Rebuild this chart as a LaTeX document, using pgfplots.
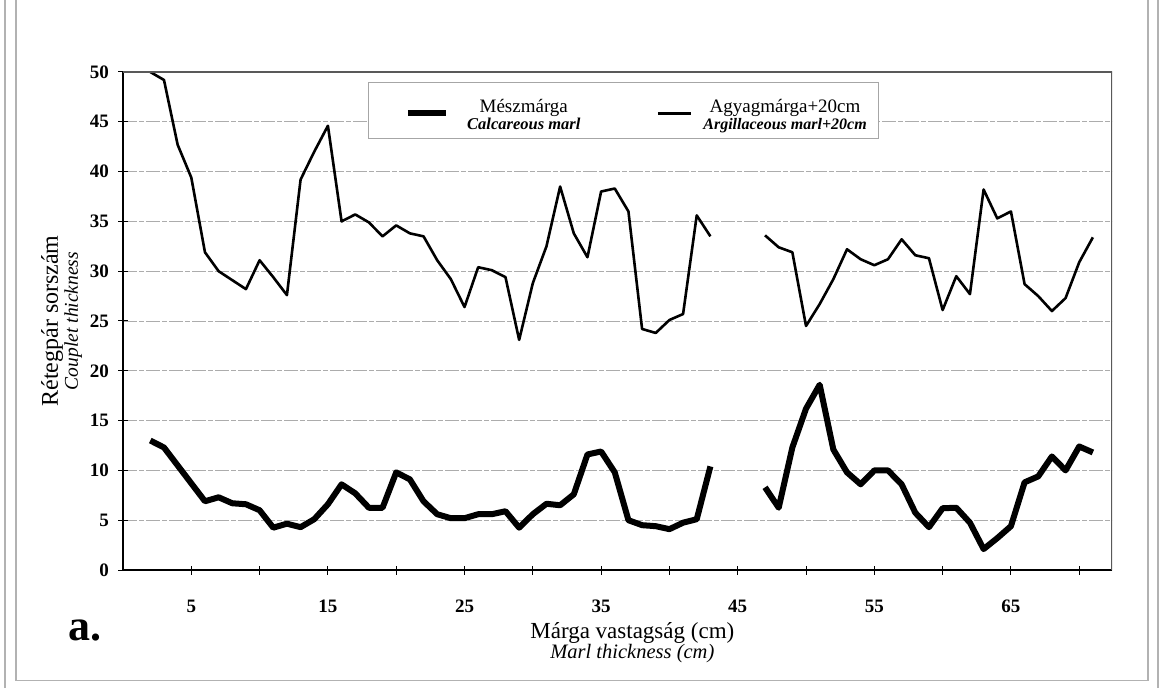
\documentclass[border=0pt]{standalone}
\usepackage{fontspec}
\setmainfont{Liberation Serif}
\usepackage{pgfplots}
\pgfplotsset{compat=1.18}
\begin{document}
\begin{tikzpicture}[x=1pt,y=1pt]
\path[use as bounding box] (0,0) rectangle (1164,688);
\draw[gray!60, line width=1.2pt] (5,0) -- (5,688);
\draw[gray!60, line width=1.2pt] (16,688) -- (16,7.5) -- (1148,7.5) -- (1148,688);
\draw[gray!60, line width=1.2pt] (1158,0) -- (1158,688);
\begin{axis}[
  at={(123pt,118pt)}, anchor=south west,
  scale only axis, width=989pt, height=498pt,
  xmin=0, xmax=72.4, ymin=0, ymax=50,
  axis x line*=bottom, axis y line*=left,
  xtick={5,10,...,70}, xticklabels={5,,15,,25,,35,,45,,55,,65,},
  ytick={0,5,...,50},
  tick align=center, major tick length=9pt,
  tick style={black, line width=1pt},
  ymajorgrids,
  grid style={gray!65, line width=0.9pt, dash pattern=on 14pt off 2pt on 5pt off 2pt},
  axis line style={black, line width=1.3pt},
  /pgf/number format/assume math mode=true,
  ticklabel style={font=\fontsize{19}{19}\selectfont\bfseries},
  xticklabel style={yshift=-22pt},
  yticklabel style={xshift=-6pt},
  unbounded coords=jump,
  xlabel={Márga vastagság (cm)\\[-3pt]{\fontsize{20.5}{20.5}\selectfont\itshape Marl thickness (cm)}},
  xlabel style={at={(axis description cs:0.515,-0.146)}, anchor=center, align=center, font=\fontsize{23}{23}\selectfont},
  ylabel={Rétegpár sorszám\\[-4pt]{\fontsize{19.5}{19.5}\selectfont\itshape Couplet thickness}},
  ylabel style={at={(axis description cs:-0.062,0.5)}, anchor=center, rotate=0, align=center, font=\fontsize{24}{24}\selectfont},
  legend columns=2,
  legend style={at={(axis description cs:0.248,0.980)}, anchor=north west,
    draw=gray!70, line width=1pt, fill=white, inner xsep=0pt, inner ysep=16pt,
    column sep=0pt, font=\fontsize{19}{20}\selectfont,
    nodes={inner sep=0pt, anchor=base}},
]
\addplot[black, line width=6pt, line join=round,
  legend image code/.code={\path[draw=none, fill=none] (-39pt,8pt) rectangle (38pt,8.1pt); \draw[black, line width=6pt] (0pt,8pt) -- (38pt,8pt);}]
coordinates {(2,13.0)(3,12.3)(4,10.5)(5,8.7)(6,6.9)(7,7.3)(8,6.7)(9,6.6)(10,6.0)(11,4.25)(12,4.65)(13,4.3)(14,5.1)(15,6.6)(16,8.6)(17,7.7)(18,6.25)(19,6.25)(20,9.8)(21,9.1)(22,6.9)(23,5.6)(24,5.2)(25,5.2)(26,5.6)(27,5.6)(28,5.9)(29,4.25)(30,5.6)(31,6.65)(32,6.5)(33,7.6)(34,11.6)(35,11.9)(36,9.8)(37,5.0)(38,4.5)(39,4.4)(40,4.1)(41,4.75)(42,5.1)(43,10.4)(45,nan)(47,8.3)(48,6.25)(49,12.3)(50,16.2)(51,18.6)(52,12.1)(53,9.8)(54,8.6)(55,10.0)(56,10.0)(57,8.6)(58,5.75)(59,4.3)(60,6.2)(61,6.25)(62,4.75)(63,2.1)(64,3.2)(65,4.4)(66,8.8)(67,9.4)(68,11.4)(69,10.0)(70,12.4)(71,11.8)};
\addlegendentry{\makebox[150pt]{\begin{tabular}{@{}c@{}}Mészmárga\\[-3pt]\fontsize{16.5}{16.5}\selectfont\bfseries\itshape Calcareous marl\end{tabular}}}
\addplot[black, line width=2.6pt, line join=round,
  legend image code/.code={\path[draw=none, fill=none] (-59pt,8pt) rectangle (33pt,8.1pt); \draw[black, line width=2.6pt] (0pt,8pt) -- (33pt,8pt);}]
coordinates {(2,50.0)(3,49.2)(4,42.7)(5,39.4)(6,31.9)(7,30.0)(8,29.1)(9,28.2)(10,31.1)(11,29.4)(12,27.6)(13,39.2)(14,42.0)(15,44.6)(16,35.0)(17,35.7)(18,34.9)(19,33.5)(20,34.6)(21,33.8)(22,33.5)(23,31.1)(24,29.2)(25,26.4)(26,30.4)(27,30.1)(28,29.4)(29,23.1)(30,28.8)(31,32.5)(32,38.5)(33,33.8)(34,31.4)(35,38.0)(36,38.3)(37,36.0)(38,24.2)(39,23.8)(40,25.1)(41,25.7)(42,35.6)(43,33.5)(45,nan)(47,33.6)(48,32.4)(49,31.9)(50,24.5)(51,26.7)(52,29.2)(53,32.2)(54,31.2)(55,30.6)(56,31.2)(57,33.2)(58,31.6)(59,31.3)(60,26.1)(61,29.5)(62,27.7)(63,38.2)(64,35.3)(65,36.0)(66,28.7)(67,27.5)(68,26.0)(69,27.3)(70,30.9)(71,33.4)};
\addlegendentry{\makebox[186pt]{\begin{tabular}{@{}c@{}}Agyagmárga+20cm\\[-3pt]\fontsize{16}{16}\selectfont\bfseries\itshape Argillaceous marl+20cm\end{tabular}}}
\draw[gray!70!black, line width=1.3pt] (rel axis cs:0,1) -- (rel axis cs:1,1) -- (rel axis cs:1,0);
\end{axis}
\node[font=\fontsize{44}{44}\selectfont\bfseries, anchor=base west, inner sep=0pt] at (68,48) {a.};
\end{tikzpicture}
\end{document}
